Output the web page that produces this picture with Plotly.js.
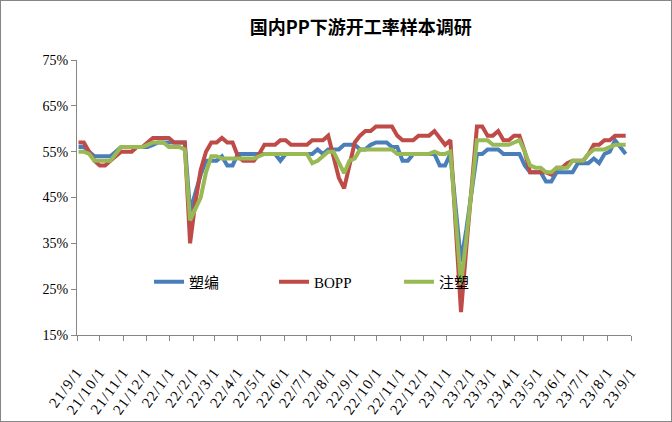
<!DOCTYPE html>
<html>
<head>
<meta charset="utf-8">
<script src="https://cdn.plot.ly/plotly-3.0.1.min.js"></script>
<style>
  body { margin: 0; background: #ffffff; }
  #Chart { width: 670px; height: 420px; border: 1px solid #868686; }
  .xtick text { letter-spacing: 1.2px; }
</style>
</head>
<body>
<div id="Chart"></div>
<script>
// weekly sample dates
var dates = [
  "2021-09-03","2021-09-10","2021-09-17","2021-09-24","2021-10-01","2021-10-08","2021-10-15","2021-10-22","2021-10-29",
  "2021-11-05","2021-11-12","2021-11-19","2021-11-26","2021-12-03","2021-12-10","2021-12-17","2021-12-24","2021-12-31",
  "2022-01-07","2022-01-14","2022-01-21","2022-01-28","2022-02-04","2022-02-11","2022-02-18","2022-02-25",
  "2022-03-04","2022-03-11","2022-03-18","2022-03-25","2022-04-01","2022-04-08","2022-04-15","2022-04-22","2022-04-29",
  "2022-05-06","2022-05-13","2022-05-20","2022-05-27","2022-06-03","2022-06-10","2022-06-17","2022-06-24",
  "2022-07-01","2022-07-08","2022-07-15","2022-07-22","2022-07-29","2022-08-05","2022-08-12","2022-08-19","2022-08-26",
  "2022-09-02","2022-09-09","2022-09-16","2022-09-23","2022-09-30","2022-10-07","2022-10-14","2022-10-21","2022-10-28",
  "2022-11-04","2022-11-11","2022-11-18","2022-11-25","2022-12-02","2022-12-09","2022-12-16","2022-12-23","2022-12-30",
  "2023-01-06","2023-01-13","2023-01-20","2023-01-27","2023-02-03","2023-02-10","2023-02-17","2023-02-24",
  "2023-03-03","2023-03-10","2023-03-17","2023-03-24","2023-03-31","2023-04-07","2023-04-14","2023-04-21","2023-04-28",
  "2023-05-05","2023-05-12","2023-05-19","2023-05-26","2023-06-02","2023-06-09","2023-06-16","2023-06-23","2023-06-30",
  "2023-07-07","2023-07-14","2023-07-21","2023-07-28","2023-08-04","2023-08-11","2023-08-18","2023-08-25"
]

// 塑编
var woven = [
  56,56,55,54,54,54,54,55,56,
  56,56,56,56,56,56.5,57,57,57,
  57,57,57,42,46,50,53,53,
  53,54,52,52,54.5,54.5,54.5,54.5,54.5,
  54.5,54.5,54.5,53,54.5,54.5,54.5,54.5,
  54.5,54.5,55.5,54.5,55.5,55.5,55.5,56.5,56.5,
  56.5,55.5,55.5,56.5,57,57,57,56,56,
  53,53,54.5,54.5,54.5,54.5,54.5,52,52,
  54.5,43,31,38,46,54.5,54.5,55.5,
  55.5,55.5,54.5,54.5,54.5,54.5,52,50.5,50.5,
  50.5,48.5,48.5,50.5,50.5,50.5,50.5,52.5,52.5,
  52.5,53.5,52.5,54.5,55,57.5,56,54.5
]

// BOPP
var bopp = [
  57,57,55,53,52,52,53,54,55,
  55,55,56,56,57,58,58,58,58,
  57,57,57,35,44,51,55,57,
  57,58,57,57,54,53,53,53,54.5,
  56.5,56.5,56.5,57.5,57.5,56.5,56.5,56.5,
  56.5,57.5,57.5,57.5,58.5,53.5,49.3,47,52,
  57,58.5,59.5,59.5,60.5,60.5,60.5,60.5,58.5,
  57.5,57.5,57.5,58.5,58.5,58.5,59.5,58,56.5,
  57.5,39,20,34,48,60.5,60.5,58.5,
  58.5,59.5,57.5,57.5,58.5,58.5,55,50.5,50.5,
  50.5,50.5,50,51.5,51.5,52.5,53,53,53,
  54.5,56.5,56.5,57.5,57.5,58.5,58.5,58.5
]

// 注塑
var injection = [
  55,55,54.5,53,53,53,53,54.5,56,
  56,56,56,56,56.5,57,57,57,56,
  56,56,55.5,40,42.5,45,50.5,54,
  54,53.5,53.5,53.5,53.5,53.5,53.5,53.5,54,
  54.5,54.5,54.5,54.5,54.5,54.5,54.5,54.5,
  54.5,52.5,53,54,55,55,52.5,50.3,53,
  53.5,55.5,55.5,55.5,55.5,55.5,55.5,55.5,54.5,
  54.5,54.5,54.5,54.5,54.5,54.5,55,54.5,54.5,
  55,40.5,26,36,47,57.5,57.5,57.5,
  56.5,56.5,56.5,56.5,57,57.5,55,52,51.5,
  51.5,50.5,50.5,51.5,51.5,51.5,53,53,53,
  54.5,55.5,55.5,55.5,56,56.5,56.5,56.5
]

var series_names = ["塑编", "BOPP", "注塑"]
var series_colors = ["#4a7ebb", "#be4b48", "#98b954"]
var series_values = [woven, bopp, injection]

var y_ticks = [15, 25, 35, 45, 55, 65, 75]
var y_labels = ["15%", "25%", "35%", "45%", "55%", "65%", "75%"]

var text_font = "Liberation Serif, 'Noto Sans CJK SC', serif"

var traces = []
for (let k = 0; k < series_names.length; k++){
    traces.push({
        x: dates,
        y: series_values[k],
        name: series_names[k],
        type: "scatter",
        mode: "lines",
        line: {
            color: series_colors[k],
            width: 4
        }
    })
}

var layout = {
    width: 670,
    height: 420,
    margin: {l: 76, r: 40, t: 59, b: 86},
    paper_bgcolor: "#ffffff",
    plot_bgcolor: "#ffffff",
    showlegend: true,
    title: {
        text: "<b>国内PP下游开工率样本调研</b>",
        font: {family: "'Noto Sans CJK SC', sans-serif", size: 18, color: "#000000"},
        xref: "container",
        x: 0.537,
        xanchor: "center",
        y: 0.936,
        yanchor: "middle"
    },
    legend: {
        orientation: "h",
        x: 0.13,
        xanchor: "left",
        y: 0.193,
        yanchor: "middle",
        bgcolor: "rgba(0,0,0,0)",
        font: {family: text_font, size: 15, color: "#000000"},
        entrywidth: 80,
        entrywidthmode: "pixels"
    },
    xaxis: {
        type: "date",
        range: ["2021-09-01", "2023-09-01"],
        tick0: "2021-09-01",
        dtick: "M1",
        tickformat: "%y/%-m/%-d",
        tickangle: -54,
        ticks: "outside",
        ticklen: 5,
        tickcolor: "#868686",
        showline: true,
        linecolor: "#868686",
        linewidth: 1,
        showgrid: false,
        zeroline: false,
        ticklabelstandoff: 16,
        tickfont: {family: text_font, size: 15, color: "#000000"}
    },
    yaxis: {
        range: [15, 75],
        tickvals: y_ticks,
        ticktext: y_labels,
        ticks: "outside",
        ticklen: 5,
        tickcolor: "#868686",
        showline: true,
        linecolor: "#868686",
        linewidth: 1,
        showgrid: false,
        zeroline: false,
        tickfont: {family: text_font, size: 14, color: "#000000"}
    }
}

Plotly.newPlot("Chart", traces, layout, {displayModeBar: false, staticPlot: true})
</script>
</body>
</html>
